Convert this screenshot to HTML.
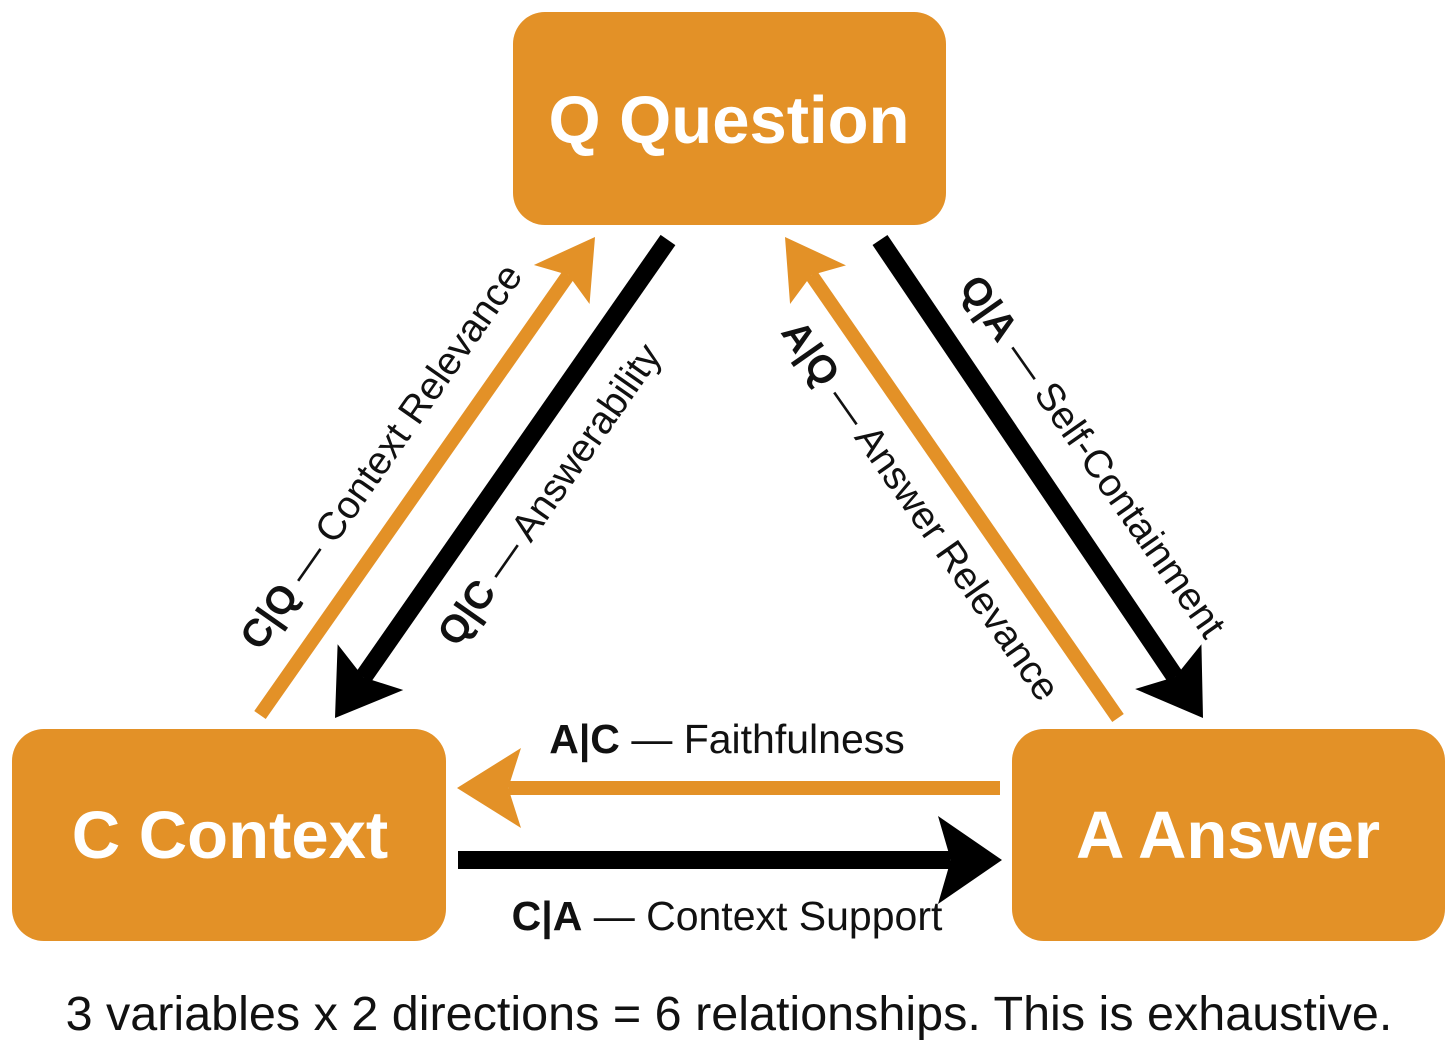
<!DOCTYPE html>
<html><head><meta charset="utf-8"><style>
html,body{margin:0;padding:0;background:#fff;width:1456px;height:1048px;overflow:hidden}
svg{display:block}
text{font-family:"Liberation Sans",sans-serif}
</style></head><body>
<svg id="s" width="1456" height="1048" viewBox="0 0 1456 1048">
<rect x="513" y="12" width="433" height="213" rx="32" fill="#E39127"/>
<rect x="12" y="729" width="434" height="212" rx="32" fill="#E39127"/>
<rect x="1012" y="729" width="433" height="212" rx="32" fill="#E39127"/>
<text x="729" y="143" text-anchor="middle" font-size="67" font-weight="bold" fill="#fff">Q Question</text>
<text x="230" y="858" text-anchor="middle" font-size="67" font-weight="bold" fill="#fff">C Context</text>
<text x="1228" y="858" text-anchor="middle" font-size="67" font-weight="bold" fill="#fff">A Answer</text>
<g id="arrows"></g>
<g font-size="39" fill="#111">
<text transform="translate(392,464) rotate(-55)" text-anchor="middle"><tspan font-weight="bold">C|Q</tspan> — Context Relevance</text>
<text transform="translate(560,502) rotate(-55)" text-anchor="middle"><tspan font-weight="bold">Q|C</tspan> — Answerability</text>
<text transform="translate(910,518) rotate(55)" text-anchor="middle"><tspan font-weight="bold">A|Q</tspan> — Answer Relevance</text>
<text transform="translate(1082,464) rotate(55)" text-anchor="middle"><tspan font-weight="bold">Q|A</tspan> — Self-Containment</text>
<text x="727" y="753" text-anchor="middle" font-size="41"><tspan font-weight="bold">A|C</tspan> — Faithfulness</text>
<text x="727" y="930" text-anchor="middle" font-size="41"><tspan font-weight="bold">C|A</tspan> — Context Support</text>
</g>
<text x="729" y="1030" text-anchor="middle" font-size="48.5" fill="#111">3 variables x 2 directions = 6 relationships. This is exhaustive.</text>
</svg>
<script>
var g=document.getElementById('arrows');
function arr(x1,y1,x2,y2,col,w,L,H){
 var dx=x2-x1,dy=y2-y1,d=Math.hypot(dx,dy),ux=dx/d,uy=dy/d,px=-uy,py=ux;
 var bx=x2-ux*L,by=y2-uy*L, nx=x2-ux*L*0.8,ny=y2-uy*L*0.8;
 var l=document.createElementNS('http://www.w3.org/2000/svg','line');
 l.setAttribute('x1',x1);l.setAttribute('y1',y1);l.setAttribute('x2',nx);l.setAttribute('y2',ny);
 l.setAttribute('stroke',col);l.setAttribute('stroke-width',w);g.appendChild(l);
 var p=document.createElementNS('http://www.w3.org/2000/svg','polygon');
 p.setAttribute('points',[x2+','+y2,(bx+px*H)+','+(by+py*H),nx+','+ny,(bx-px*H)+','+(by-py*H)].join(' '));
 p.setAttribute('fill',col);g.appendChild(p);
}
var O='#E39127',K='#000';
arr(260,715,595,237,O,14,58,34);
arr(668,240,335,718,K,18,62,40);
arr(1118,718,785,237,O,14,58,34);
arr(880,240,1203,718,K,18,62,40);
arr(1000,788,457,788,O,14,64,40);
arr(458,860,1002,860,K,18,64,44);
</script>
</body></html>
